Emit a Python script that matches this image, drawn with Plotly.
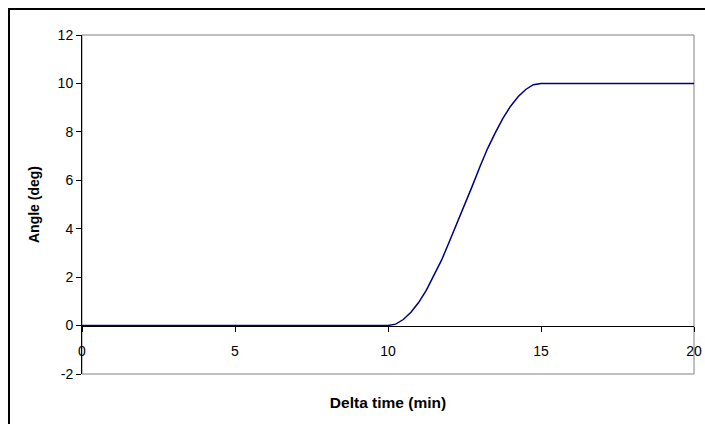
import plotly.graph_objects as go

time_min = [0, 10, 10.25, 10.5, 10.75, 11, 11.25, 11.5, 11.75, 12, 12.25, 12.5, 12.75,
            13, 13.25, 13.5, 13.75, 14, 14.25, 14.5, 14.75, 15, 20]
angle_deg = [0, 0, 0.06, 0.25, 0.55, 0.95, 1.45, 2.05, 2.7, 3.45, 4.2, 4.95, 5.75,
             6.55, 7.3, 7.95, 8.55, 9.05, 9.45, 9.75, 9.95, 10, 10]

x_ticks = [0, 5, 10, 15, 20]
y_ticks = [-2, 0, 2, 4, 6, 8, 10, 12]
y_tick_labels = ["-2", "0", "2", "4", "6", "8", "10", "12"]

fig = go.Figure()
fig.add_trace(go.Scatter(x=time_min, y=angle_deg, mode="lines",
                         line=dict(color="#000080", width=1.5),
                         showlegend=False))

font = dict(family="Arial, Liberation Sans, sans-serif", size=14, color="black")
xtitle_font = dict(family="Arial, Liberation Sans, sans-serif", size=15.5, color="black")

fig.update_layout(
    width=705, height=424, autosize=False,
    margin=dict(l=82, r=11, t=35, b=50),
    paper_bgcolor="white", plot_bgcolor="white",
    font=font,
    xaxis=dict(range=[0, 20], tickvals=x_ticks, showgrid=False, zeroline=False,
               showline=True, linecolor="black", linewidth=1,
               ticks="outside", ticklen=5, tickcolor="black",
               anchor="free", position=2/14, ticklabelstandoff=8, automargin=False,
               ticklabeloverflow="allow",
               title=dict(text="<b>Delta time (min)</b>", standoff=38, font=xtitle_font)),
    yaxis=dict(range=[-2, 12], tickvals=y_ticks, ticktext=y_tick_labels,
               showgrid=False, zeroline=False, automargin=False,
               showline=True, linecolor="black", linewidth=1,
               ticks="outside", ticklen=5, tickcolor="black",
               title=dict(text="<b>Angle (deg)</b>", standoff=14, font=font)),
    shapes=[
        dict(type="rect", xref="paper", yref="paper", x0=-0.1193, x1=1.3, y0=-0.3, y1=1.0767,
             line=dict(color="black", width=2), layer="below"),
        dict(type="rect", xref="paper", yref="paper", x0=0, x1=1, y0=0, y1=1,
             line=dict(color="#808080", width=1), layer="below"),
    ],
)

post = (
    "document.body.style.margin='0';"
    "document.body.style.overflow='hidden';"
    "var gd=document.getElementById('{plot_id}');"
    "gd.style.width='705px';gd.style.height='424px';"
    "Plotly.relayout(gd,{width:705,height:424});"
)
fig.write_html("out.html", config={"displayModeBar": False, "responsive": False},
               post_script=post)
